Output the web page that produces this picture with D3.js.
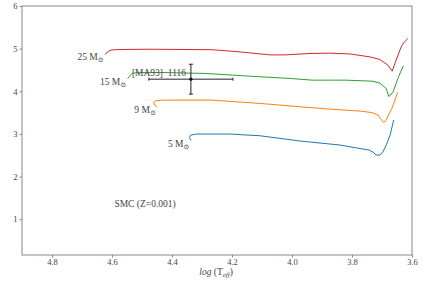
<!DOCTYPE html>
<html lang="en">
<head>
<meta charset="UTF-8">
<title>SMC tracks</title>
<script src="https://d3js.org/d3.v7.min.js"></script>
<style>
  body { margin: 0; background: #fff; }
  text { font-family: "Liberation Serif", "DejaVu Serif", serif; fill: #444; }
</style>
</head>
<body>
<div id="chart"></div>
<script>
// Evolutionary tracks, [log Teff, log L]
const track5 = [[4.337,2.845],[4.342,2.915],[4.337,2.973],[4.318,2.997],[4.207,2.997],[4.107,2.957],[3.973,2.833],[3.84,2.739],[3.744,2.622],[3.73,2.575],[3.72,2.505],[3.707,2.505],[3.697,2.575],[3.683,2.786],[3.673,2.973],[3.661,3.325]];
const track9 = [[4.449,3.622],[4.457,3.676],[4.462,3.734],[4.453,3.781],[4.429,3.793],[4.267,3.793],[4.107,3.715],[3.973,3.636],[3.873,3.582],[3.773,3.535],[3.733,3.5],[3.713,3.441],[3.703,3.336],[3.695,3.271],[3.687,3.313],[3.667,3.598],[3.648,3.973]];
const track15 = [[4.548,4.298],[4.543,4.338],[4.534,4.418],[4.517,4.436],[4.44,4.441],[4.29,4.418],[4.14,4.354],[4.007,4.301],[3.933,4.261],[3.823,4.261],[3.733,4.237],[3.707,4.191],[3.687,4.074],[3.677,3.875],[3.663,3.987],[3.647,4.3],[3.637,4.471],[3.629,4.595]];
const track25 = [[4.623,4.869],[4.607,4.963],[4.583,4.979],[4.473,4.986],[4.267,4.975],[4.173,4.923],[4.073,4.853],[4.023,4.853],[3.94,4.886],[3.873,4.893],[3.807,4.876],[3.74,4.806],[3.707,4.745],[3.68,4.61],[3.666,4.471],[3.653,4.729],[3.636,5.04],[3.628,5.134],[3.62,5.197],[3.614,5.237]];

const masses = ["5", "9", "15", "25"];
const colors = ["#1f77b4", "#ff7f0e", "#2ca02c", "#d62728"];
const tracks = [track5, track9, track15, track25];

// observed star
const starName = "[MA93]  1116";
const starX = 4.337, starY = 4.284, starXerr = 0.14, starYerr = 0.35;

const xTicks = [4.8, 4.6, 4.4, 4.2, 4.0, 3.8, 3.6];
const yTicks = [1, 2, 3, 4, 5, 6];

const W = 425, H = 284;
const margin = {top: 6, right: 13, bottom: 29, left: 22};

const svg = d3.select("#chart").append("svg")
    .attr("width", W).attr("height", H);

const x = d3.scaleLinear().domain([4.9, 3.6]).range([margin.left, W - margin.right]);
const y = d3.scaleLinear().domain([0.16, 6]).range([H - margin.bottom, margin.top]);

// frame
svg.append("rect")
    .attr("x", margin.left).attr("y", margin.top)
    .attr("width", W - margin.left - margin.right)
    .attr("height", H - margin.top - margin.bottom)
    .attr("fill", "none").attr("stroke", "#888").attr("stroke-width", 1);

const xAxis = svg.append("g")
    .attr("transform", `translate(0,${H - margin.bottom})`)
    .call(d3.axisBottom(x).tickValues(xTicks).tickFormat(d3.format(".1f")).tickSize(2.5).tickPadding(1));
const yAxis = svg.append("g")
    .attr("transform", `translate(${margin.left},0)`)
    .call(d3.axisLeft(y).tickValues(yTicks).tickFormat(d3.format("d")).tickSize(2.5).tickPadding(2));
[xAxis, yAxis].forEach(a => {
    a.select(".domain").remove();
    a.selectAll("line").attr("stroke", "#888");
    a.selectAll("text").style("font-size", "8.5px").attr("fill", "#444")
        .style("font-family", '"Liberation Serif", serif');
});

// tracks
const line = d3.line().x(d => x(d[0])).y(d => y(d[1]));
svg.selectAll(".track")
    .data(tracks)
    .join("path")
    .attr("class", "track")
    .attr("d", line)
    .attr("fill", "none")
    .attr("stroke", (d, i) => colors[i])
    .attr("stroke-width", 1);

// mass labels next to the start of each track
const lab = svg.selectAll(".mlab")
    .data(tracks)
    .join("text")
    .attr("class", "mlab")
    .attr("x", d => x(d[0][0]) - 1.5)
    .attr("y", d => y(d[0][1]) + 6)
    .attr("text-anchor", "end")
    .style("font-size", "9.5px");
lab.append("tspan").text((d, i) => masses[i] + " M");
lab.append("tspan").attr("dy", 2).style("font-size", "7px").text("\u2299");

// data point with error bars
const g = svg.append("g").attr("stroke", "#222").attr("stroke-width", 1);
g.append("line")
    .attr("x1", x(starX - starXerr)).attr("x2", x(starX + starXerr))
    .attr("y1", y(starY)).attr("y2", y(starY));
g.append("line")
    .attr("x1", x(starX)).attr("x2", x(starX))
    .attr("y1", y(starY - starYerr)).attr("y2", y(starY + starYerr));
[starX - starXerr, starX + starXerr].forEach(v => {
    g.append("line").attr("x1", x(v)).attr("x2", x(v))
        .attr("y1", y(starY) - 1.5).attr("y2", y(starY) + 1.5);
});
[starY - starYerr, starY + starYerr].forEach(v => {
    g.append("line").attr("x1", x(starX) - 2).attr("x2", x(starX) + 2)
        .attr("y1", y(v)).attr("y2", y(v));
});
svg.append("circle")
    .attr("cx", x(starX)).attr("cy", y(starY)).attr("r", 1.6).attr("fill", "#111");
svg.append("text")
    .attr("x", x(starX) - 59).attr("y", y(starY) - 3)
    .style("font-size", "9.5px")
    .style("white-space", "pre")
    .text(starName);

// annotation
svg.append("text")
    .attr("x", x(4.592)).attr("y", y(1.35) + 3)
    .style("font-size", "9.5px")
    .text("SMC (Z=0.001)");

// x label
const xl = svg.append("text")
    .attr("x", x(4.253)).attr("y", H - 9)
    .attr("text-anchor", "middle")
    .style("font-size", "9.5px");
xl.append("tspan").style("font-style", "italic").text("log");
xl.append("tspan").text(" (T");
xl.append("tspan").attr("dy", 2).style("font-size", "7px").style("font-style", "italic").text("eff");
xl.append("tspan").attr("dy", -2).text(")");
</script>
</body>
</html>
